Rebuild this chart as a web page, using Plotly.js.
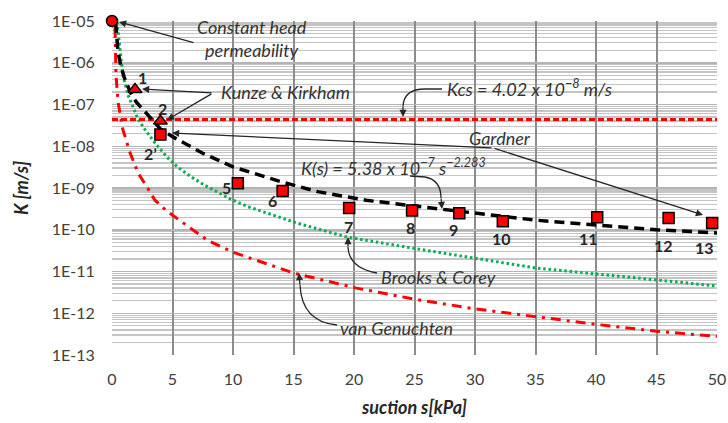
<!DOCTYPE html>
<html>
<head>
<meta charset="utf-8">
<script src="https://cdn.plot.ly/plotly-3.0.1.min.js"></script>
<style>html,body{margin:0;padding:0;background:#fff;}#chart{width:728px;height:423px;}</style>
</head>
<body>
<div id="chart"></div>
<script>
// ---- data ----
const xTicks = [0, 5, 10, 15, 20, 25, 30, 35, 40, 45, 50];
const yTickVals = [1e-13, 1e-12, 1e-11, 1e-10, 1e-9, 1e-8, 1e-7, 1e-6, 1e-5];
const yTickText = ["1E-13", "1E-12", "1E-11", "1E-10", "1E-09", "1E-08", "1E-07", "1E-06", "1E-05"];

// Constant head permeability
const s_const = [0];
const K_const = [1e-5];

// Kunze & Kirkham points (1, 2)
const s_kk = [1.9, 4.0];
const K_kk = [2.3e-7, 4.0e-8];
const kkLabels = ["1", "2"];

// Measured points (2', 5 ... 13)
const s_meas = [4.0, 10.4, 14.1, 19.6, 24.8, 28.7, 32.3, 40.1, 46.0, 49.6];
const K_meas = [1.9e-8, 1.3e-9, 8.5e-10, 3.3e-10, 2.9e-10, 2.5e-10, 1.6e-10, 2.0e-10, 1.9e-10, 1.45e-10];
const measLabels = ["2\u2019", "5", "6", "7", "8", "9", "10", "11", "12", "13"];

// Power fit K(s) = 5.38e-7 s^-2.283
const s_fit = [0.3, 0.5, 0.75, 1.0, 1.5, 2.0, 3.0, 4.0, 5.0, 6.0, 7.5, 10, 14, 17, 21, 25, 30, 35, 40, 45, 50];
const K_fit = [9e-6, 1.8e-6, 8e-7, 4.6e-7, 2.0e-7, 1.15e-7, 5.5e-8, 2.6e-8, 1.7e-8, 1.2e-8, 6.8e-9, 3.2e-9, 1.4e-9, 8.2e-10, 5.1e-10, 3.7e-10, 2.5e-10, 1.7e-10, 1.3e-10, 1.0e-10, 8.4e-11];

// Kcs horizontal line
const s_kcs = [0, 50];
const K_kcs = [4.4e-8, 4.4e-8];

// Brooks & Corey
const s_bc = [0.41, 0.66, 0.9, 1.32, 1.74, 2.15, 2.73, 3.55, 4.55, 5.4, 6.6, 7.7, 9.75, 11.2, 15.3, 19.4, 24.9, 29.8, 35.1, 40.1, 45, 50];
const K_bc = [9.5e-6, 2.2e-6, 5.1e-7, 1.7e-7, 8.3e-8, 4.5e-8, 2.5e-8, 1.2e-8, 5.5e-9, 3.2e-9, 1.8e-9, 1.15e-9, 5.5e-10, 3.6e-10, 1.44e-10, 6.7e-11, 3.6e-11, 2.1e-11, 1.2e-11, 8.7e-12, 6.3e-12, 4.5e-12];

// van Genuchten
const s_vg = [0.25, 0.33, 0.5, 0.66, 0.9, 1.5, 2.15, 2.9, 3.55, 4.6, 7.85, 10, 15, 20.2, 24.9, 29.8, 35.1, 39.8, 45, 50];
const K_vg = [6.8e-6, 5.1e-7, 1.15e-7, 5.6e-8, 2.5e-8, 6.9e-9, 2.3e-9, 1.05e-9, 5.1e-10, 2.7e-10, 5.7e-11, 2.9e-11, 9.2e-12, 4e-12, 2.2e-12, 1.3e-12, 8.1e-13, 5.5e-13, 3.7e-13, 2.8e-13];

// ---- layout helpers ----
const L = 112, T = 21, W = 605, H = 334;
const X = px => (px - L) / W;
const Y = py => (T + H - py) / H;
const P = (px, py) => X(px).toFixed(4) + ',' + Y(py).toFixed(4);

const FONT = 'Lato, "Open Sans", sans-serif';
const TXT = '#333333';

const minorVals = [];
for (let e = -13; e < -5; e++) for (let d = 2; d <= 9; d++) minorVals.push(d * Math.pow(10, e));

const red = '#ff0000';
const traces = [
  {x: s_vg, y: K_vg, mode: 'lines', line: {color: red, width: 3, dash: '10px,6px,3px,6px'}, hoverinfo: 'skip'},
  {x: s_bc, y: K_bc, mode: 'lines', line: {color: '#00b050', width: 3, dash: '2.5px,2.8px'}, hoverinfo: 'skip'},
  {x: s_kcs, y: K_kcs, mode: 'lines', line: {color: red, width: 3, dash: '6px,3px'}, hoverinfo: 'skip'},
  {x: s_fit, y: K_fit, mode: 'lines', line: {color: '#000', width: 3.5, dash: '10px,6px'}, hoverinfo: 'skip'},
  {x: s_meas, y: K_meas, mode: 'markers', marker: {symbol: 'square', size: 11, color: red, line: {color: '#000', width: 1.5}}, cliponaxis: false},
  {x: s_kk, y: K_kk, mode: 'markers', marker: {symbol: 'triangle-up', size: 12, color: red, line: {color: '#000', width: 1.5}}, cliponaxis: false},
  {x: s_const, y: K_const, mode: 'markers', marker: {symbol: 'circle', size: 11, color: red, line: {color: '#000', width: 1.5}}, cliponaxis: false}
];

const ann = [];
function text(t, px, py, opts) {
  ann.push(Object.assign({xref: 'paper', yref: 'paper', x: X(px), y: Y(py), text: t, showarrow: false,
    font: {family: FONT, size: 18, color: TXT, style: 'italic'}, xanchor: 'center', yanchor: 'middle'}, opts || {}));
}
function label(t, px, py) {
  ann.push({xref: 'paper', yref: 'paper', x: X(px), y: Y(py), text: '<b>' + t + '</b>', showarrow: false,
    font: {family: FONT, size: 16, color: '#262626'}, xanchor: 'center', yanchor: 'middle'});
}
function arrow(tx, ty, fx, fy) {
  ann.push({xref: 'paper', yref: 'paper', x: X(tx), y: Y(ty), ax: fx - tx, ay: fy - ty, axref: 'pixel', ayref: 'pixel',
    text: '', showarrow: true, arrowhead: 2, arrowsize: 1.1, arrowwidth: 1.3, arrowcolor: '#262626'});
}

text('Constant head<br>permeability', 252, 38);
text('Kunze &amp; Kirkham', 285, 92);
text('Kcs = 4.02 x 10<sup>\u22128</sup> m/s', 445, 88, {xanchor: 'left'});
text('Gardner', 467, 138, {xanchor: 'left'});
text('K(s) = 5.38 x 10<sup>\u22127</sup> s<sup>\u22122.283</sup>', 299, 167, {xanchor: 'left'});
text('Brooks &amp; Corey', 379, 277, {xanchor: 'left'});
text('van Genuchten', 338, 328, {xanchor: 'left'});

// point labels
const kkLabelPos = [[142, 78], [162, 108]];
kkLabels.forEach((t, i) => label(t, kkLabelPos[i][0], kkLabelPos[i][1]));
const measLabelPos = [[150, 153], [226, 187], [272, 200], [348, 226], [410, 227], [453, 229], [501, 239], [588, 239], [663, 246], [704, 247]];
measLabels.forEach((t, i) => label(t, measLabelPos[i][0], measLabelPos[i][1]));

// straight arrows
arrow(119, 22, 195, 43);
arrow(142, 89, 213, 93);
arrow(167, 120, 213, 93);
arrow(172, 133, 493, 148);
arrow(703, 215, 493, 148);
// heads of curved arrows
arrow(403, 117, 403, 105);
arrow(442, 209, 441, 197);
arrow(348, 237, 348, 248);
arrow(299, 273, 300, 286);

const lineStyle = {color: '#262626', width: 1.3};
const shapes = [
  {type: 'path', xref: 'paper', yref: 'paper', path: 'M' + P(442, 89) + ' L' + P(425, 89) + ' Q' + P(404, 89) + ' ' + P(403, 106), line: lineStyle},
  {type: 'path', xref: 'paper', yref: 'paper', path: 'M' + P(410, 176) + ' L' + P(425, 177) + ' Q' + P(441, 180) + ' ' + P(441, 198), line: lineStyle},
  {type: 'path', xref: 'paper', yref: 'paper', path: 'M' + P(377, 273) + ' Q' + P(349, 268) + ' ' + P(348, 247), line: lineStyle},
  {type: 'path', xref: 'paper', yref: 'paper', path: 'M' + P(337, 325) + ' Q' + P(302, 322) + ' ' + P(300, 285), line: lineStyle}
];

const layout = {
  width: 728, height: 423,
  margin: {l: L, r: 728 - L - W, t: T, b: 423 - T - H, pad: 0},
  paper_bgcolor: '#fff', plot_bgcolor: '#fff',
  showlegend: false,
  font: {family: FONT, color: TXT},
  xaxis: {
    range: [0, 50], tickvals: xTicks, ticktext: xTicks.map(String),
    showgrid: true, gridcolor: '#8c8c8c', gridwidth: 2, zeroline: false, showline: false,
    ticks: 'outside', ticklen: 10, tickcolor: 'rgba(0,0,0,0)',
    tickfont: {family: FONT, size: 16, color: '#404040'},
    title: {text: '<b><i>suction s[kPa]</i></b>', font: {family: FONT, size: 18, color: '#262626'}, standoff: 14}
  },
  yaxis: {
    type: 'log', range: [-13, -5], tickmode: 'array', tickvals: yTickVals, ticktext: yTickText,
    showgrid: true, gridcolor: '#b4b4b4', gridwidth: 1.5, zeroline: false, showline: false,
    ticks: 'outside', ticklen: 13, tickcolor: 'rgba(0,0,0,0)',
    tickfont: {family: FONT, size: 16, color: '#404040'},
    minor: {tickmode: 'array', tickvals: minorVals, showgrid: true, gridcolor: '#c4c4c4', gridwidth: 1.3, ticks: ''},
    title: {text: '<b><i>K [m/s]</i></b>', font: {family: FONT, size: 18, color: '#262626'}, standoff: 18}
  },
  annotations: ann,
  shapes: shapes
};

Plotly.newPlot('chart', traces, layout, {displayModeBar: false, staticPlot: true});
</script>
</body>
</html>
